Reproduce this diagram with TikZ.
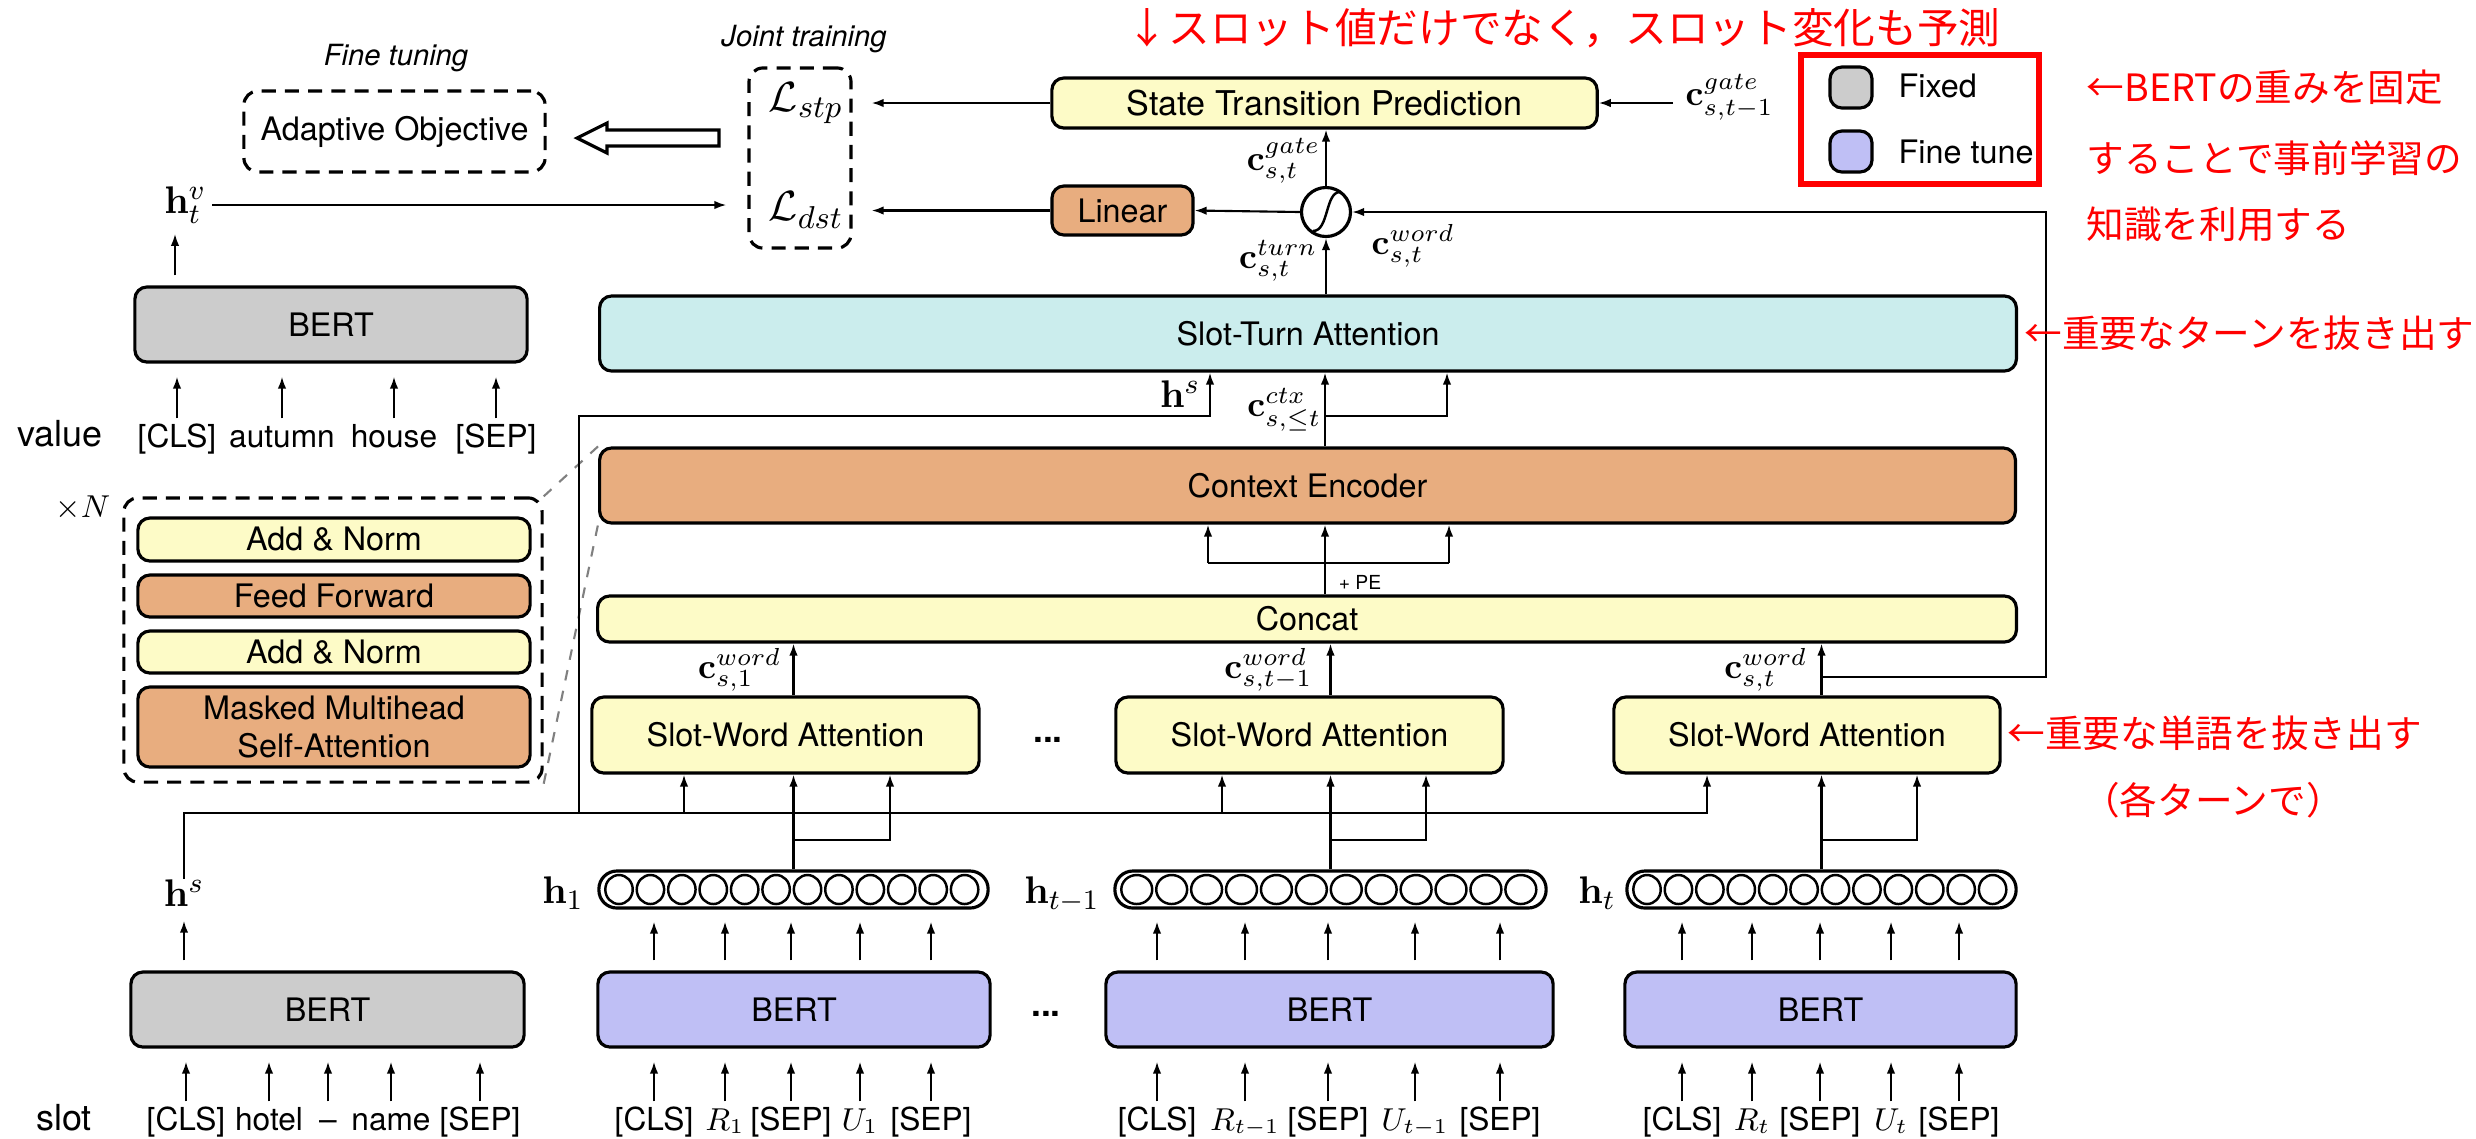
\documentclass[tikz,border=0pt]{standalone}
\usepackage[no-math]{fontspec}
\setmainfont{TeX Gyre Heros}
\newfontfamily\jp{Noto Sans CJK JP}
\usetikzlibrary{arrows.meta,calc}
\newcommand\fsz[2]{\fontsize{#1}{#2}\selectfont}
\definecolor{cY}{RGB}{253,251,199}
\definecolor{cO}{RGB}{232,173,127}
\definecolor{cC}{RGB}{203,237,237}
\definecolor{cG}{RGB}{204,204,204}
\definecolor{cB}{RGB}{191,191,245}
\tikzset{
  bx/.style={draw, line width=0.9pt, rounded corners=0.12cm, inner sep=0pt, font=\fsz{9.2}{11}},
  ybx/.style={bx, fill=cY}, obx/.style={bx, fill=cO}, cbx/.style={bx, fill=cC},
  gbx/.style={bx, fill=cG}, bbx/.style={bx, fill=cB},
  dbx/.style={draw, line width=0.9pt, rounded corners=0.14cm, dash pattern=on 4pt off 2.6pt, inner sep=0pt, font=\fsz{9.2}{11}},
  arr/.style={line width=0.6pt, -{Latex[length=1.2mm,width=0.85mm]}},
  ln/.style={line width=0.6pt},
  tok/.style={anchor=base, inner sep=0pt, font=\fsz{9}{10}, text height=0.28cm},
  cl/.style={inner sep=0pt, font=\fsz{10}{12}},
  hl/.style={inner sep=0pt, font=\fsz{11}{13}},
  note/.style={text=red, inner sep=0pt, font=\jp\fsz{10.7}{12}},
  vec/.style={draw, line width=0.9pt, rounded corners=0.18cm, minimum height=0.37cm, inner sep=0pt},
}
\begin{document}
\begin{tikzpicture}[x=0.01cm,y=-0.01cm]
\useasboundingbox (0,0) rectangle (2476,1138);

% ---------- top left: objectives ----------
\node[font=\fsz{8.3}{10}\itshape] (ftl) at (396,58) {Fine tuning};
\node[dbx, minimum width=3.01cm, minimum height=0.81cm] (adapt) at (394.5,131.5) {Adaptive Objective};
\node[font=\fsz{8.3}{10}\itshape] (jtl) at (804,39) {Joint training};
\node[dbx, minimum width=1.02cm, minimum height=1.80cm] (joint) at (800,158) {};
\node[font=\fsz{12.5}{14}, inner sep=0pt] (lstp) at (806,103) {$\mathcal{L}_{stp}$};
\node[font=\fsz{12.5}{14}, inner sep=0pt] (ldst) at (806,210) {$\mathcal{L}_{dst}$};
\draw[line width=0.9pt, fill=white] (719,130) -- (607,130) -- (607,123) -- (577,138) -- (607,153) -- (607,146) -- (719,146) -- cycle;

% ---------- value BERT ----------
\node[gbx, minimum width=3.92cm, minimum height=0.75cm] (bertv) at (331,324.5) {BERT};
\node[hl, anchor=east] (hv) at (207,205) {$\mathbf{h}_t^{v}$};
\coordinate (hvx) at (175,0);
\draw[arr, shorten <=0.1cm, shorten >=0.1cm] (hvx |- bertv.north) -- (hvx |- hv.south);
\draw[arr, shorten <=0.05cm, shorten >=0.21cm] (hv.east) -- (hv.east -| joint.west);
\node[anchor=base, inner sep=0pt, font=\fsz{10.2}{12}] (valuel) at (60,446) {value};
\foreach \x/\t/\n in {177/{[CLS]}/v1, 282/autumn/v2, 394/house/v3, 496/{[SEP]}/v4} {
  \node[tok] (\n) at (\x,447) {\t};
  \draw[arr, shorten >=0.13cm] (\n.north) -- (\n.north |- bertv.south);
}

% ---------- xN block ----------
\node[dbx, minimum width=4.18cm, minimum height=2.84cm] (xn) at (333,640) {};
\node[font=\fsz{9.5}{11}] (xnl) at (83,508) {$\times N$};
\node[ybx, minimum width=3.92cm, minimum height=0.43cm] (an1) at (334,539.5) {Add \& Norm};
\node[obx, minimum width=3.92cm, minimum height=0.42cm] (ff) at (334,596) {Feed Forward};
\node[ybx, minimum width=3.92cm, minimum height=0.42cm] (an2) at (334,652) {Add \& Norm};
\node[obx, minimum width=3.92cm, minimum height=0.80cm, align=center, font=\fsz{9.2}{10.8}] (mmh) at (334,727) {Masked Multihead\\Self-Attention};

% ---------- central column ----------
\node[ybx, minimum width=5.45cm, minimum height=0.50cm, font=\fsz{9.7}{11}] (stp) at (1324.5,103) {State Transition Prediction};
\node[obx, minimum width=1.41cm, minimum height=0.49cm] (linear) at (1122.5,210.5) {Linear};
\node[circle, draw, line width=0.9pt, fill=white, minimum size=0.49cm, inner sep=0pt] (sig) at (1326,212) {};
\draw[line width=0.7pt] ($(sig.center)+(-13,19)$) .. controls ($(sig.center)+(3,19)$) and ($(sig.center)+(-1,-20)$) .. ($(sig.center)+(14,-20)$);
\node[cbx, minimum width=14.16cm, minimum height=0.75cm] (sturn) at (1308,333.5) {Slot-Turn Attention};
\node[obx, minimum width=14.15cm, minimum height=0.75cm] (cenc) at (1307.5,485.5) {Context Encoder};
\node[ybx, minimum width=14.18cm, minimum height=0.46cm] (concat) at (1307,619) {Concat};

\draw[gray, dashed, line width=0.6pt] (xn.north east) -- (cenc.north west);
\draw[gray, dashed, line width=0.6pt] (xn.south east) -- (cenc.south west);

% labels around the gate
\node[cl, anchor=west] (cgm) at (1685,97) {$\mathbf{c}^{gate}_{s,t-1}$};
\node[cl, anchor=east] (cgate) at (1321,161) {$\mathbf{c}^{gate}_{s,t}$};
\node[cl, anchor=east] (cturn) at (1318,261) {$\mathbf{c}^{turn}_{s,t}$};
\node[cl, anchor=west] (cwg) at (1371,246) {$\mathbf{c}^{word}_{s,t}$};

\draw[arr, shorten <=0.12cm] (cgm.west |- stp.east) -- (stp.east);
\draw[arr, shorten >=0.19cm] (stp.west) -- (stp.west -| joint.east);
\draw[arr, shorten >=0.19cm] (linear.west) -- (linear.west -| joint.east);
\draw[arr] (sig.west) -- (linear.east);
\draw[arr] (sig.north) -- (sig.north |- stp.south);
\draw[arr] (sig.south |- sturn.north) -- (sig.south);

% context encoder connections
\coordinate (midx) at (1325,0);
\coordinate (peL) at (1208,563);
\coordinate (peR) at (1449,563);
\draw[arr] (concat.north -| midx) -- (midx |- cenc.south);
\draw[ln] (peL) -- (peR);
\draw[arr] (peL) -- (peL |- cenc.south);
\draw[arr] (peR) -- (peR |- cenc.south);
\node[inner sep=0pt, font=\fsz{5.5}{6}] (pe) at (1360,582) {+ PE};

\coordinate (ctxj) at (1447,416);
\draw[arr] (cenc.north -| midx) -- (midx |- sturn.south);
\draw[arr] (midx |- ctxj) -| (ctxj |- sturn.south);
\node[cl, anchor=east] (cctx) at (1322,410) {$\mathbf{c}^{ctx}_{s,\leq t}$};

% ---------- slot word attentions ----------
\node[ybx, minimum width=3.87cm, minimum height=0.76cm] (swa1) at (785.5,735) {Slot-Word Attention};
\node[ybx, minimum width=3.87cm, minimum height=0.76cm] (swa2) at (1309.5,735) {Slot-Word Attention};
\node[ybx, minimum width=3.86cm, minimum height=0.76cm] (swa3) at (1807,735) {Slot-Word Attention};
\node[font=\fsz{10}{12}\bfseries] (dots1) at (1048,740) {...};

% ---------- hidden vectors ----------
\node[vec, minimum width=3.89cm] (h1) at (793.5,889.5) {};
\node[vec, minimum width=4.31cm] (hm) at (1330.5,889.5) {};
\node[vec, minimum width=3.89cm] (ht) at (1821.5,889.5) {};
\foreach \nm/\w in {h1/389, hm/431, ht/389} {
  \pgfmathsetmacro{\s}{(\w-12)/12}
  \pgfmathsetmacro{\rx}{\s/2-2}
  \foreach \i in {0,...,11} {
    \draw[line width=0.7pt] ($(\nm.west)+({6+(\i+0.5)*\s},0)$) ellipse [x radius=\rx, y radius=14.5];
  }
}
\node[hl, anchor=base east] (h1l) at ($(h1.west)+(-13,14)$) {$\mathbf{h}_1$};
\node[hl, anchor=base east] (hml) at ($(hm.west)+(-13,14)$) {$\mathbf{h}_{t-1}$};
\node[hl, anchor=base east] (htl) at ($(ht.west)+(-9,14)$) {$\mathbf{h}_t$};

% vectors to slot-word attention
\coordinate (br) at (0,840);
\coordinate (r1) at (890,0);
\coordinate (r2) at (1426,0);
\coordinate (r3) at (1917,0);
\draw[arr] (h1.north) -- (h1.north |- swa1.south);
\draw[arr] (h1.north |- br) -| (r1 |- swa1.south);
\draw[arr] (hm.north) -- (hm.north |- swa2.south);
\draw[arr] (hm.north |- br) -| (r2 |- swa2.south);
\draw[arr] (ht.north) -- (ht.north |- swa3.south);
\draw[arr] (ht.north |- br) -| (r3 |- swa3.south);

% slot-word attention to concat
\draw[arr] (swa1.north -| h1.north) -- (h1.north |- concat.south);
\draw[arr] (swa2.north -| hm.north) -- (hm.north |- concat.south);
\draw[arr] (swa3.north -| ht.north) -- (ht.north |- concat.south);
\node[cl, anchor=east] (cw1) at (782,670) {$\mathbf{c}^{word}_{s,1}$};
\node[cl, anchor=east] (cw2) at (1313,670) {$\mathbf{c}^{word}_{s,t-1}$};
\node[cl, anchor=east] (cw3) at (1808,670) {$\mathbf{c}^{word}_{s,t}$};

% feedback of c_word to the gate
\coordinate (fbR) at (2046,677);
\draw[arr] (ht.north |- fbR) -- (fbR) |- (sig.east);

% ---------- slot BERT and h^s bus ----------
\node[gbx, minimum width=3.93cm, minimum height=0.75cm] (berts) at (327.5,1009.5) {BERT};
\node[hl, anchor=base, inner sep=0pt] (hsb) at (184,906) {$\mathbf{h}^{s}$};
\draw[arr, shorten <=0.1cm, shorten >=0.14cm] (hsb.south |- berts.north) -- (hsb.south);
\coordinate (tap0) at (579,813);
\coordinate (tap1) at (684,813);
\coordinate (tap2) at (1222,813);
\coordinate (tap3) at (1707,813);
\coordinate (hsj) at (1210,416);
\draw[arr] (hsb.north) |- (tap3) -- (tap3 |- swa3.south);
\draw[arr] (tap1) -- (tap1 |- swa1.south);
\draw[arr] (tap2) -- (tap2 |- swa2.south);
\draw[arr] (tap0) |- (hsj) -- (hsj |- sturn.south);
\node[hl, anchor=east] (hst) at (1201,394) {$\mathbf{h}^{s}$};

% ---------- bottom BERTs ----------
\node[bbx, minimum width=3.92cm, minimum height=0.75cm] (bert1) at (794,1009.5) {BERT};
\node[bbx, minimum width=4.47cm, minimum height=0.75cm] (bert2) at (1329.5,1009.5) {BERT};
\node[bbx, minimum width=3.91cm, minimum height=0.75cm] (bert3) at (1820.5,1009.5) {BERT};
\node[font=\fsz{10}{12}\bfseries] (dots2) at (1046,1014) {...};
\node[anchor=base, inner sep=0pt, font=\fsz{10.2}{12}] (slotl) at (64,1130) {slot};

\foreach \x/\t/\n in {186/{[CLS]}/s1, 269/hotel/s2, 328/–/s3, 391/name/s4, 480/{[SEP]}/s5} {
  \node[tok] (\n) at (\x,1130) {\t};
  \draw[arr, shorten >=0.13cm] (\n.north) -- (\n.north |- berts.south);
}
\foreach \x/\t/\n in {654/{[CLS]}/a1, 725/{$R_1$}/a2, 791/{[SEP]}/a3, 860/{$U_1$}/a4, 931/{[SEP]}/a5} {
  \node[tok] (\n) at (\x,1130) {\t};
  \draw[arr, shorten >=0.13cm] (\n.north) -- (\n.north |- bert1.south);
  \draw[arr, shorten <=0.1cm, shorten >=0.12cm] (\n.north |- bert1.north) -- (\n.north |- h1.south);
}
\foreach \x/\t/\n in {1157/{[CLS]}/b1, 1245/{$R_{t-1}$}/b2, 1328/{[SEP]}/b3, 1415/{$U_{t-1}$}/b4, 1500/{[SEP]}/b5} {
  \node[tok] (\n) at (\x,1130) {\t};
  \draw[arr, shorten >=0.13cm] (\n.north) -- (\n.north |- bert2.south);
  \draw[arr, shorten <=0.1cm, shorten >=0.12cm] (\n.north |- bert2.north) -- (\n.north |- hm.south);
}
\foreach \x/\t/\n in {1682/{[CLS]}/c1, 1752/{$R_t$}/c2, 1820/{[SEP]}/c3, 1891/{$U_t$}/c4, 1959/{[SEP]}/c5} {
  \node[tok] (\n) at (\x,1130) {\t};
  \draw[arr, shorten >=0.13cm] (\n.north) -- (\n.north |- bert3.south);
  \draw[arr, shorten <=0.1cm, shorten >=0.12cm] (\n.north |- bert3.north) -- (\n.north |- ht.south);
}

% ---------- legend ----------
\node[draw=red, line width=1.7pt, minimum width=2.38cm, minimum height=1.29cm, inner sep=0pt] (legend) at (1920,119.5) {};
\node[gbx, minimum width=0.42cm, minimum height=0.41cm] (lgfix) at (1851,87.5) {};
\node[anchor=west, inner sep=0pt, font=\fsz{9.2}{11}] (lgfixt) at (1898,86) {Fixed};
\node[bbx, minimum width=0.42cm, minimum height=0.41cm] (lgft) at (1851,151.5) {};
\node[anchor=west, inner sep=0pt, font=\fsz{9.2}{11}] (lgftt) at (1898,152) {Fine tune};

% ---------- red notes ----------
\node[note, anchor=west, font=\jp\fsz{11.85}{14}] (n1) at (1126,28) {↓スロット値だけでなく，スロット変化も予測};
\node[note, anchor=west] (n2) at (2086,87) {←BERTの重みを固定};
\node[note, anchor=west] (n3) at (2086,158) {することで事前学習の};
\node[note, anchor=west] (n4) at (2086,224) {知識を利用する};
\node[note, anchor=west] (n5) at (2024,333) {←重要なターンを抜き出す};
\node[note, anchor=west] (n6) at (2007,733) {←重要な単語を抜き出す};
\node[note] (n7) at (2213,800) {（各ターンで）};
\end{tikzpicture}
\end{document}
